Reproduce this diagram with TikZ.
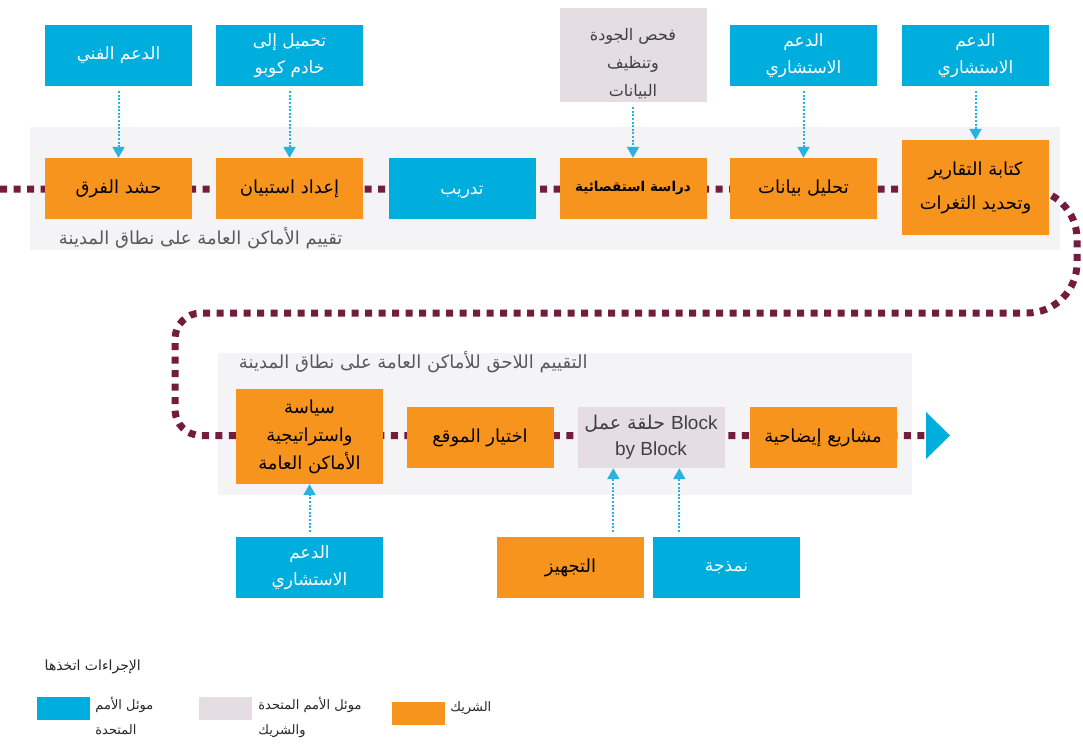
\documentclass[tikz,border=0pt]{standalone}
\usepackage{fontspec}
\setmainfont{Liberation Sans}
\newfontfamily\arabicfont[Script=Arabic]{DejaVu Sans}
\TeXXeTstate=1
\usetikzlibrary{arrows.meta,backgrounds,positioning}

\newcommand{\ar}[1]{{\arabicfont\beginR #1\endR}}

\definecolor{unblue}{RGB}{0,174,222}
\definecolor{partorange}{RGB}{247,148,29}
\definecolor{jointgray}{RGB}{228,222,227}
\definecolor{panelgray}{RGB}{244,243,246}
\definecolor{flowred}{RGB}{115,28,60}
\definecolor{arrowblue}{RGB}{40,178,225}

\begin{document}
\begin{tikzpicture}[x=1pt, y=-1pt,
    box/.style={minimum width=147pt, minimum height=61pt, inner sep=2pt, align=center,
        font=\fontsize{17}{27}\selectfont},
    unbox/.style={box, fill=unblue, text=white},
    partbox/.style={box, fill=partorange, text=black, font=\fontsize{18}{28}\selectfont},
    jointbox/.style={box, fill=jointgray, text=black!75},
    support/.style={arrowblue, line width=2pt, dash pattern=on 2pt off 1.6pt,
        -{Triangle[width=12pt,length=11pt]}, shorten <=5pt},
    flowline/.style={flowred, line width=7pt, dash pattern=on 7pt off 6.5pt},
    panel/.style={fill=panelgray},
    caption/.style={text=black!65, font=\fontsize{18}{20}\selectfont},
    keybox/.style={minimum width=53pt, minimum height=23pt, inner sep=0pt},
    keytext/.style={align=left, inner sep=0pt, text=black!85, font=\fontsize{13}{25}\selectfont}]
    \useasboundingbox (0,0) rectangle (1083,746);

    % Top row: city-wide assessment
    \node[partbox] (teams) at (118.5,188.5) {\ar{حشد الفرق}};
    \node[partbox] (survprep) at (289.5,188.5) {\ar{إعداد استبيان}};
    \node[unbox] (training) at (462,188.5) {\rule{0pt}{16pt}\ar{تدريب}};
    \node[partbox, font=\fontsize{13.5}{16}\selectfont\bfseries] (survey) at (633,188.5) {\ar{دراسة استقصائية}};
    \node[partbox] (analysis) at (803.5,188.5) {\ar{تحليل بيانات}};
    \node[partbox, minimum height=95pt, font=\fontsize{18}{34}\selectfont] (reports) at (975.5,187.5) {\ar{كتابة التقارير}\\\ar{وتحديد الثغرات}};

    % Support boxes above
    \node[unbox] (techsup) at (118.5,55.5) {\ar{الدعم الفني}};
    \node[unbox] (upload) at (289.5,55.5) {\ar{تحميل إلى}\\\ar{خادم كوبو}};
    \node[jointbox, minimum height=94pt, font=\fontsize{16}{28}\selectfont] (quality) at (633,55) {\rule{0pt}{30pt}\ar{فحص الجودة}\\\ar{وتنظيف}\\\ar{البيانات}};
    \node[unbox] (consultA) at (803.5,55.5) {\ar{الدعم}\\\ar{الاستشاري}};
    \node[unbox] (consultB) at (975.5,55.5) {\ar{الدعم}\\\ar{الاستشاري}};

    \draw[support] (techsup) -- (teams);
    \draw[support] (upload) -- (survprep);
    \draw[support] (quality) -- (survey);
    \draw[support] (consultA) -- (analysis);
    \draw[support] (consultB) -- (reports);

    % Lower row: follow-up assessment
    \node[partbox, minimum height=95pt] (policy) at (309.5,436.5) {\ar{سياسة}\\\ar{واستراتيجية}\\\ar{الأماكن العامة}};
    \node[partbox] (site) at (480,437.5) {\ar{اختيار الموقع}};
    \node[jointbox, font=\fontsize{19}{26}\selectfont] (workshop) at (651,437.5) {\ar{\beginL{\rmfamily Block}\endL{} حلقة عمل}\\by Block};
    \node[partbox] (demo) at (823,437.5) {\ar{مشاريع إيضاحية}};

    % Support boxes below
    \node[unbox] (consultC) at (309.5,567.5) {\ar{الدعم}\\\ar{الاستشاري}};
    \node[partbox] (equip) at (570.5,567.5) {\ar{التجهيز}};
    \node[unbox] (modelling) at (726.5,567.5) {\ar{نمذجة}};

    \draw[support] (consultC) -- (policy);
    \draw[support] ([xshift=36pt]workshop.south west |- equip.north) -- ([xshift=36pt]workshop.south west);
    \draw[support] ([xshift=102pt]workshop.south west |- modelling.north) -- ([xshift=102pt]workshop.south west);

    % End of the flow
    \fill[unblue] (926,412) -- (950,435.5) -- (926,459) -- cycle;
    \coordinate (flowstart) at (0,189);
    \coordinate (flowend) at (926,435.5);

    % Panels and flow line behind the boxes
    \begin{scope}[on background layer]
        \fill[panel] (30,127) rectangle (1060,250);
        \fill[panel] (218,353) rectangle (912,495);
        \node[caption, anchor=east] (toplabel) at (346,238) {\ar{تقييم الأماكن العامة على نطاق المدينة}};
        \node[caption, anchor=east] (lowlabel) at (591,362) {\ar{التقييم اللاحق للأماكن العامة على نطاق المدينة}};
        \draw[flowline, rounded corners=50pt] (flowstart) -- (1077,189) -- (1077,313)
            [rounded corners=26pt] -- (175,313) -- (175,435.5) -- (flowend);
    \end{scope}

    % Legend
    \node[keytext, anchor=east, font=\fontsize{14}{16}\selectfont] (keytitle) at (141,667) {\ar{الإجراءات اتخذها}};
    \node[keybox, fill=unblue] (keyun) at (63.5,708.5) {};
    \node[keytext, right=5pt of keyun.north east, anchor=north west] (keyuntext) {\ar{موئل الأمم}\\\ar{المتحدة}};
    \node[keybox, fill=jointgray] (keyjoint) at (225.5,708.5) {};
    \node[keytext, right=6pt of keyjoint.north east, anchor=north west] (keyjointtext) {\ar{موئل الأمم المتحدة}\\\ar{والشريك}};
    \node[keybox, fill=partorange] (keypart) at (418.5,713.5) {};
    \node[keytext, right=5pt of keypart.north east, anchor=north west] (keyparttext) {\ar{الشريك}};
\end{tikzpicture}
\end{document}
